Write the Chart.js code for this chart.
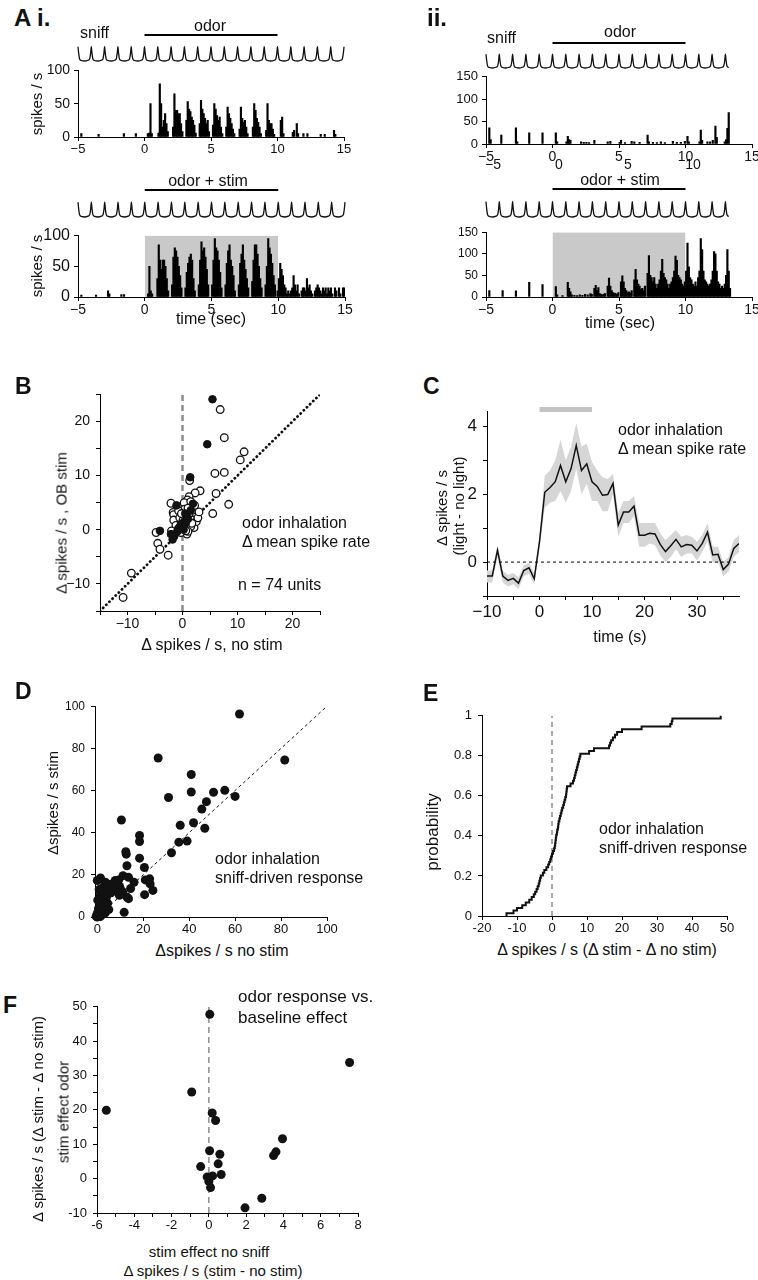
<!DOCTYPE html>
<html>
<head>
<meta charset="utf-8">
<script src="https://cdn.jsdelivr.net/npm/chart.js@4.4.0/dist/chart.umd.min.js"></script>
<style>
  body { margin: 0; background: #fff; }
  #fig { position: relative; width: 758px; height: 1280px; overflow: hidden;
         font-family: "Liberation Sans", Arial, Helvetica, sans-serif; color: #111; }
  #fig canvas { position: absolute; }
  .t { position: absolute; white-space: nowrap; line-height: 1; }
</style>
</head>
<body>
<div id="fig"></div>
<script>
// ---- data ----
const odorWindow = [0, 10];
const stimWindow = [0, 10];
const sniffPeaksI = [-5, -4, -3, -2, -1, 0, 1, 2, 3, 4, 5, 6, 7, 8, 9, 10, 11, 12, 13, 14, 15];
const sniffPeaksII = [-5, -4, -3, -2, -1, 0, 1, 2, 3, 4, 5, 6, 7, 8, 9, 10, 11, 12, 13];
// one sniff cycle around its peak: [time offset (s), amplitude]
const sniffShape = [[-0.25, 0.03], [-0.12, 0.09], [-0.05, 0.3], [0, 0.55], [0.05, 0.3], [0.12, 0.08], [0.25, 0.02], [0.5, 0]];

// PSTH bins (bin start in s, spikes/s), 0.1 s bins, empty bins left out
const psthOdorI = [[-4.8,5],[-3.5,4],[-1.6,5],[-0.7,5],
  [0.2,5],[0.3,6],[0.4,50],[0.5,5],
  [1.0,6],[1.1,80],[1.2,50],[1.3,15],[1.4,25],[1.5,35],[1.6,20],[1.7,8],
  [2.1,15],[2.2,65],[2.3,40],[2.4,40],[2.5,35],[2.6,35],[2.7,20],[2.8,8],
  [3.1,25],[3.2,53],[3.3,42],[3.4,38],[3.5,30],[3.6,25],[3.7,18],[3.8,6],
  [4.1,20],[4.2,55],[4.3,42],[4.4,35],[4.5,28],[4.6,20],[4.7,25],[4.8,8],
  [5.1,18],[5.2,50],[5.3,42],[5.4,32],[5.5,25],[5.6,30],[5.7,15],[5.8,5],
  [6.1,15],[6.2,45],[6.3,35],[6.4,28],[6.5,20],[6.6,12],[6.7,5],
  [7.1,12],[7.2,45],[7.3,28],[7.4,22],[7.5,25],[7.6,15],[7.7,5],
  [8.1,15],[8.2,50],[8.3,40],[8.4,28],[8.5,22],[8.6,15],[8.7,5],
  [9.1,10],[9.2,50],[9.3,25],[9.4,20],[9.5,20],[9.6,12],[9.7,4],
  [10.2,25],[10.3,30],[10.4,5],
  [11.1,7],[11.2,10],[11.4,20],[11.5,5],
  [11.9,5],[12.2,5],[13.2,4],[13.5,4],[14.2,10],[14.3,4]];

const psthStimI = [[-4.8,3],[-3.7,3],[-2.8,10],[-2.7,5],[-1.8,4],[-1.6,4],
  [0.2,5],[0.3,50],[0.4,10],[0.5,5],
  [0.9,30],[1.0,85],[1.1,60],[1.2,45],[1.3,60],[1.4,60],[1.5,50],[1.6,30],[1.7,10],
  [2.0,20],[2.1,65],[2.2,80],[2.3,75],[2.4,65],[2.5,50],[2.6,35],[2.7,15],
  [3.0,15],[3.1,40],[3.2,55],[3.3,65],[3.4,70],[3.5,60],[3.6,30],[3.7,10],
  [4.0,20],[4.1,60],[4.2,90],[4.3,75],[4.4,80],[4.5,65],[4.6,45],[4.7,20],
  [5.0,20],[5.1,60],[5.2,95],[5.3,80],[5.4,75],[5.5,60],[5.6,40],[5.7,15],
  [6.0,20],[6.1,55],[6.2,75],[6.3,85],[6.4,60],[6.5,50],[6.6,35],[6.7,10],
  [7.0,20],[7.1,55],[7.2,70],[7.3,85],[7.4,60],[7.5,45],[7.6,30],[7.7,15],
  [8.0,25],[8.1,60],[8.2,85],[8.3,85],[8.4,70],[8.5,50],[8.6,30],[8.7,15],
  [9.0,20],[9.1,50],[9.2,95],[9.3,80],[9.4,70],[9.5,55],[9.6,35],[9.7,20],
  [9.9,10],[10.0,30],[10.1,55],[10.2,45],[10.3,35],[10.4,20],[10.5,15],[10.6,5],[10.7,10],[10.8,5],[10.9,10],
  [11.0,15],[11.1,35],[11.2,20],[11.3,10],[11.4,20],[11.5,5],
  [11.7,10],[11.8,15],[11.9,15],[12.0,10],[12.1,30],[12.2,15],[12.3,20],[12.4,10],[12.5,5],
  [12.7,10],[12.8,15],[12.9,20],[13.0,15],[13.1,10],[13.2,5],[13.3,15],[13.4,10],[13.5,15],[13.6,5],
  [13.7,15],[13.8,10],[13.9,15],[14.0,5],[14.2,15],[14.3,10],[14.5,15],[14.6,5],[14.8,15],[14.9,15]];

const psthOdorII = [[-4.8,36],[-4.7,10],[-3.9,20],[-2.8,36],[-2.7,5],[-1.8,25],[-0.8,25],[0.2,25],[0.3,5],
  [1.0,5],[1.1,17],[1.2,10],[1.3,8],[2.1,5],[2.3,4],[2.5,4],[2.7,3],[3.1,8],
  [4.1,5],[4.3,6],[5.0,4],[5.1,8],[5.4,3],[5.9,6],[6.1,5],[6.5,4],[7.1,20],[7.2,5],[7.5,4],[7.8,3],
  [8.1,5],[8.4,3],[9.0,6],[9.3,4],[9.6,4],[9.9,6],[10.1,17],[10.2,5],
  [11.0,5],[11.1,31],[11.2,8],[11.6,5],[11.8,5],[12.0,8],[12.2,40],[12.3,15],[12.9,5],[13.0,10],[13.1,35],[13.2,70]];

const psthStimII = [[-4.8,15],[-3.8,15],[-2.8,14],[-1.8,34],[-0.8,29],
  [0.2,24],[0.3,5],[0.7,3],[1.1,34],[1.2,20],[1.3,12],[1.4,5],[1.6,4],
  [1.8,3],[2.0,5],[2.2,4],[2.4,6],[2.6,5],[2.8,8],[2.9,6],
  [3.1,20],[3.2,27],[3.3,15],[3.4,22],[3.5,8],[3.6,6],[3.7,5],[3.8,7],[3.9,8],
  [4.1,25],[4.2,44],[4.3,25],[4.4,15],[4.5,10],[4.6,9],[4.7,8],[4.8,6],[4.9,10],
  [5.1,35],[5.2,49],[5.3,35],[5.4,20],[5.5,15],[5.6,10],[5.7,12],[5.8,9],[5.9,15],
  [6.1,40],[6.2,64],[6.3,40],[6.4,30],[6.5,25],[6.6,18],[6.7,20],[6.8,15],[6.9,25],
  [7.1,55],[7.2,96],[7.3,50],[7.4,45],[7.5,35],[7.6,45],[7.7,30],[7.8,20],[7.9,30],
  [8.0,40],[8.1,60],[8.2,87],[8.3,55],[8.4,45],[8.5,40],[8.6,30],[8.7,20],[8.8,30],[8.9,35],
  [9.0,45],[9.1,60],[9.2,95],[9.3,85],[9.4,50],[9.5,45],[9.6,40],[9.7,30],[9.8,25],[9.9,35],
  [10.0,60],[10.1,125],[10.2,70],[10.3,45],[10.4,40],[10.5,30],[10.6,25],[10.7,35],[10.8,25],[10.9,45],
  [11.0,60],[11.1,135],[11.2,110],[11.3,60],[11.4,40],[11.5,35],[11.6,30],[11.7,25],[11.8,30],[11.9,40],
  [12.0,60],[12.1,105],[12.2,100],[12.3,60],[12.4,35],[12.5,30],[12.6,20],[12.7,25],[12.8,20],[12.9,30],
  [13.0,50],[13.1,110],[13.2,60],[13.3,20]];

// B: [no stim, OB stim]
const bFilled = [[5.45,24.1],[4.5,15.8],[1.4,9.7],[-1.1,4.5],[1.9,4.8],[-4.1,-0.2],[-2.1,-0.8],[-1.8,-1.8],
  [-0.5,0.5],[0.3,1.5],[-1.0,-0.4],[0.8,2.5],[0.2,0.0],[-0.3,1.0],[1.0,2.0],[0.5,3.0],[-1.5,-1.2],
  [0.0,0.6],[1.5,3.6],[-0.8,0.2],[0.6,1.2]];
const bOpen = [[6.85,22.2],[7.6,17.0],[11.2,14.4],[10.5,12.9],[5.9,10.4],[7.6,10.6],[1.3,9.1],[3.2,7.2],
  [2.3,6.8],[6.1,6.7],[8.4,4.7],[5.5,3.0],[-2.1,4.9],[-1.7,3.2],[-1.6,2.8],[1.2,6.1],[0.9,5.5],[0.0,4.5],
  [2.0,3.9],[1.8,2.7],[2.1,0.4],[0.8,-0.8],[-4.8,-0.5],[-4.5,-2.5],[-4.1,-3.6],[-2.6,-4.7],[-9.3,-8.0],
  [-10.8,-12.5],[1.8,3.6],[1.2,2.4],[1.8,1.8],[-1.6,1.8],[0.8,1.0],[0.3,5.0],[-0.5,2.2],[2.5,1.5],
  [1.5,0.6],[0.4,3.8],[-0.3,-0.5],[1.0,-0.3],[2.8,2.2],[0.5,2.0],[-1.2,0.8],[1.5,5.2],[0.1,1.8],
  [-0.7,3.5],[2.2,4.5],[1.0,4.0],[0.6,-0.2],[-2.0,-0.2],[-0.2,3.0],[3.0,3.3],[1.7,1.2]];

// C: time (s), mean and SEM band of delta spike rate
const cTime = [-10,-9,-8,-7,-6,-5,-4,-3,-2,-1,0,1,2,3,4,5,6,7,8,9,10,11,12,13,14,15,16,17,18,19,
  20,21,22,23,24,25,26,27,28,29,30,31,32,33,34,35,36,37,38];
const cMean = [-0.41,-0.41,0.35,-0.41,-0.54,-0.48,-0.62,-0.25,-0.17,-0.49,
  0.6,2.06,2.2,2.37,2.85,2.37,2.75,3.44,2.7,2.9,
  2.37,2.23,1.97,1.99,2.32,1.09,1.48,1.48,1.65,0.79,
  0.79,0.85,0.83,0.52,0.31,0.48,0.67,0.45,0.52,0.5,
  0.33,0.55,0.88,0.21,0.23,-0.22,-0.06,0.4,0.55];
const cUpper = [-0.25,-0.25,0.5,-0.25,-0.38,-0.32,-0.45,-0.1,-0.02,-0.33,
  0.8,2.55,2.7,3.0,3.6,3.0,3.4,4.1,3.4,3.5,
  2.95,2.7,2.5,2.45,2.6,1.45,1.8,1.8,1.95,1.15,
  1.15,1.15,1.15,0.85,0.65,0.8,0.95,0.75,0.8,0.75,
  0.6,0.8,1.15,0.45,0.45,0.0,0.15,0.65,0.8];
const cLower = [-0.6,-0.6,0.15,-0.6,-0.72,-0.65,-0.8,-0.42,-0.35,-0.66,
  0.4,1.6,1.75,1.8,2.1,1.75,2.1,2.75,2.0,2.3,
  1.8,1.8,1.5,1.5,2.0,0.75,1.15,1.15,1.35,0.45,
  0.45,0.55,0.5,0.2,0.0,0.15,0.38,0.15,0.25,0.25,
  0.05,0.3,0.6,-0.02,0.0,-0.42,-0.28,0.15,0.3];

// D: [no stim, stim]
const dUnits = [[61.9,96.3],[81.6,74.5],[26.5,75.4],[40.9,67.6],[40.9,59.3],[31.0,56.7],[50.6,59.2],
  [55.5,60.1],[60.0,57.2],[47.5,54.7],[45.5,51.2],[41.9,44.7],[36.1,43.5],[46.8,42.1],[35.5,35.5],
  [39.1,36.0],[32.3,30.5],[10.5,46.0],[18.4,38.7],[18.4,35.8],[12.4,31.0],[12.6,29.8],[18.4,27.9],
  [12.9,24.3],[20.5,23.5],[11.2,19.6],[13.6,18.8],[0.0,17.3],[1.4,18.5],[3.5,16.5],[7.8,17.3],
  [9.3,17.6],[20.9,17.6],[22.8,18.1],[23.0,15.7],[24.2,12.6],[20.6,10.6],[12.9,9.5],[2.0,12.6],
  [3.9,11.0],[9.7,14.5],[9.0,12.6],[8.6,15.0],[10.0,13.4],[9.6,10.3],[13.6,8.7],[1.3,10.3],[1.3,5.6],
  [0.0,1.7],[1.3,0.2],[2.0,1.0],[11.7,2.2],[2.7,7.9],[0.5,4.0],[0.8,2.5],[2.5,3.5],[0.3,0.5],
  [3.0,5.0],[1.8,8.0],[4.5,6.5],[5.5,12.0],[6.5,13.5],[0.0,0.0],[1.0,0.8],[-0.5,0.3],[3.5,2.0],
  [4.0,9.5],[7.0,16.0],[16.0,16.5],[14.5,13.5],[2.5,14.0],[0.8,13.0],[6.0,11.5],[11.0,12.0],
  [4.8,15.5],[2.0,3.0],[0.2,8.0],[5.0,3.5]];

// E: sorted (delta stim - delta no stim) per unit, n = 74
const eDiff = [-13,-11,-10,-8.5,-7.5,-6.5,-5.8,-5.2,-4.8,-4.4,-4.1,-3.8,-3.6,-3.4,-3.2,-2.6,-2.2,-1.6,
  -1.1,-0.8,-0.5,-0.3,0.0,0.3,0.6,0.8,0.9,1.0,1.1,1.2,1.4,1.5,1.7,1.8,1.9,2.1,2.3,2.5,2.7,2.9,
  3.2,3.4,3.6,3.8,4.0,4.1,4.2,4.3,5.3,6.0,6.3,6.5,6.7,6.9,7.1,7.3,7.5,7.7,7.9,8.1,10.6,12.0,
  16.3,16.6,16.9,17.4,18.0,18.6,20.0,25.6,33.8,34.2,34.4,48.2];

// F: [stim effect no sniff, stim effect odor]
const fUnits = [[0.05,47.8],[7.55,33.8],[-0.92,25.2],[-5.5,19.9],[0.18,19.1],[0.36,16.9],[3.95,11.6],
  [3.6,7.8],[3.47,6.7],[0.04,8.1],[0.59,7.1],[-0.44,3.5],[0.5,4.3],[0.66,1.2],[0.2,0.8],[-0.09,0.5],
  [0.0,-0.8],[0.09,-2.6],[2.84,-5.7],[1.94,-8.5]];

// ---- helpers ----
const FONT = '"Liberation Sans", Arial, Helvetica, sans-serif';
const fig = document.getElementById('fig');
const minus = v => String(Math.round(v * 100) / 100).replace('-', '\u2212');
const plain = v => String(Math.round(v * 100) / 100);
const xy = arr => arr.map(([x, y]) => ({x, y}));
const bars = arr => arr.map(([t, v]) => ({x: t + 0.05, y: v}));
const zip = (xs, ys) => xs.map((x, i) => ({x, y: ys[i]}));

function text(str, x, y, size, opt = {}) {
  const d = document.createElement('div');
  d.className = 't';
  d.textContent = str;
  d.style.fontSize = size + 'px';
  if (opt.bold) d.style.fontWeight = 'bold';
  d.style.left = x + 'px';
  d.style.top = y + 'px';
  let tf = opt.left ? 'translate(0,-50%)' : 'translate(-50%,-50%)';
  if (opt.rot) tf += ' rotate(-90deg)';
  d.style.transform = tf;
  fig.appendChild(d);
}

function axis(min, max, step, size, every, fmt, pad) {
  return {
    type: 'linear', min, max, offset: false,
    ticks: {
      stepSize: step, includeBounds: false, autoSkip: false, maxRotation: 0, minRotation: 0,
      padding: pad, color: '#111', font: {family: FONT, size},
      callback: v => (Math.abs(v / every - Math.round(v / every)) < 1e-6 ? fmt(v) : '')
    },
    grid: {display: true, drawOnChartArea: false, drawTicks: true, tickLength: 4,
      color: '#000', tickColor: '#000', lineWidth: 1, offset: false},
    border: {display: true, color: '#000', width: 1}
  };
}

// area = [left, right, top, bottom] of the plot area in page px; m = [left, right, top, bottom] margins
function place(area, m, cfg) {
  const [x0, x1, y0, y1] = area, [ml, mr, mt, mb] = m;
  const c = document.createElement('canvas');
  const w = x1 - x0 + ml + mr, h = y1 - y0 + mt + mb;
  c.width = w; c.height = h;
  c.style.left = (x0 - ml) + 'px';
  c.style.top = (y0 - mt) + 'px';
  c.style.width = w + 'px';
  c.style.height = h + 'px';
  fig.appendChild(c);
  const o = cfg.options;
  o.responsive = false;
  o.animation = false;
  o.devicePixelRatio = 1;
  o.plugins = {legend: {display: false}, tooltip: {enabled: false}};
  const sx = o.scales.x, sy = o.scales.y;
  o.layout = {padding: {left: sy.display === false ? ml : 0, right: mr, top: mt, bottom: sx.display === false ? mb : 0}};
  if (sx.display !== false) sx.afterFit = s => { s.height = mb; };
  if (sy.display !== false) sy.afterFit = s => { s.width = ml; };
  return new Chart(c, cfg);
}

function sniffTrace(peaks, t0, t1) {
  const pts = [];
  peaks.forEach(p => sniffShape.forEach(([dt, v]) => {
    const t = p + dt;
    if (t >= t0 && t <= t1) pts.push({x: t, y: v});
  }));
  return pts;
}

function sniffChart(area, peaks, t1) {
  place(area, [4, 4, 4, 4], {
    type: 'line',
    data: {datasets: [
      {data: sniffTrace(peaks, -5, t1), borderColor: '#111', borderWidth: 1.3, pointRadius: 0,
        cubicInterpolationMode: 'monotone', clip: false},
      {data: odorWindow.map(t => ({x: t, y: 1})), borderColor: '#000', borderWidth: 2, pointRadius: 0, clip: false}
    ]},
    options: {scales: {x: {type: 'linear', min: -5, max: 15, display: false}, y: {min: 0, max: 1, display: false}}}
  });
}

function psth(area, bins, ymax, ystep, yfs, xfs, shade) {
  const sets = [{data: bars(bins), backgroundColor: '#000', barThickness: 1.5, order: 1}];
  if (shade) {
    sets.push({type: 'line', data: stimWindow.map(t => ({x: t, y: ymax})), fill: 'origin',
      backgroundColor: '#c9c9c9', borderWidth: 0, pointRadius: 0, order: 2});
  }
  place(area, [40, 14, 10, 24], {
    type: 'bar',
    data: {datasets: sets},
    options: {scales: {x: axis(-5, 15, 5, xfs, 5, minus, 1), y: axis(0, ymax, ystep, yfs, ystep, plain, 4)}}
  });
}

// ---- panel A ----
sniffChart([78, 344, 35, 61], sniffPeaksI, 15);
psth([78, 344, 68, 137], psthOdorI, 100, 50, 14, 13, false);
sniffChart([78, 345, 190, 217], sniffPeaksI, 15);
psth([78, 345, 232, 297], psthStimI, 100, 50, 16, 14, true);
sniffChart([486, 752, 43, 68], sniffPeaksII, 13.3);
psth([486, 752, 75, 144], psthOdorII, 150, 50, 13, 14, false);
sniffChart([486, 752, 189, 217], sniffPeaksII, 13.3);
psth([486, 752, 231, 297], psthStimII, 150, 50, 12, 14, true);

text('A i.', 14, 18, 24, {bold: true, left: true});
text('sniff', 80, 33, 16, {left: true});
text('odor', 210, 26, 16);
text('spikes / s', 36, 104, 15, {rot: true});
text('odor + stim', 208, 181, 16);
text('spikes / s', 36, 266, 15, {rot: true});
text('time (sec)', 211, 319, 16);
text('ii.', 427, 18, 24, {bold: true, left: true});
text('sniff', 487, 38, 16, {left: true});
text('odor', 620, 32, 16);
text('\u22125', 493, 164, 14);
text('0', 559, 164, 14);
text('5', 628, 164, 14);
text('10', 693, 164, 14);
text('odor + stim', 620, 180, 16);
text('time (sec)', 620, 323, 16);

// ---- panel B ----
place([100, 320, 390, 611], [40, 14, 10, 28], {
  type: 'scatter',
  data: {datasets: [
    {data: [{x: -15, y: -15}, {x: 25, y: 25}], showLine: true, borderColor: '#111', borderWidth: 2.8,
      borderDash: [0.1, 4.3], borderCapStyle: 'round', pointRadius: 0, order: 3},
    {data: [{x: 0, y: -15}, {x: 0, y: 25}], showLine: true, borderColor: '#8c8c8c', borderWidth: 2.5,
      borderDash: [6, 4], pointRadius: 0, order: 3},
    {data: xy(bOpen), pointRadius: 3.8, pointBackgroundColor: '#fff', pointBorderColor: '#111',
      pointBorderWidth: 1.3, order: 2, clip: false},
    {data: xy(bFilled), pointRadius: 3.8, pointBackgroundColor: '#111', pointBorderColor: '#111',
      pointBorderWidth: 1, order: 1, clip: false}
  ]},
  options: {scales: {x: axis(-15, 25, 5, 14, 10, minus, 1), y: axis(-15, 25, 5, 14, 10, minus, 6)}}
});
text('B', 15, 386, 23, {bold: true, left: true});
text('odor inhalation', 242, 523, 16, {left: true});
text('\u0394 mean spike rate', 242, 542, 16, {left: true});
text('n = 74 units', 238, 585, 16, {left: true});
text('\u0394 spikes / s, no stim', 212, 645, 16);
text('\u0394 spikes / s , OB stim', 61, 523, 15, {rot: true});

// ---- panel C ----
place([487, 739, 407, 596], [40, 14, 12, 30], {
  type: 'line',
  data: {datasets: [
    {data: zip(cTime, cUpper), borderWidth: 0, pointRadius: 0, fill: '+1', backgroundColor: '#d6d6d6', order: 3},
    {data: zip(cTime, cLower), borderWidth: 0, pointRadius: 0, fill: false, order: 3},
    {data: [{x: -10, y: 0}, {x: 38, y: 0}], borderColor: '#000', borderWidth: 1, borderDash: [3, 3],
      pointRadius: 0, order: 2},
    {data: zip(cTime, cMean), borderColor: '#111', borderWidth: 1.5, pointRadius: 0, order: 1},
    {data: stimWindow.map(t => ({x: t, y: 4.5})), borderColor: '#c4c4c4', borderWidth: 5,
      pointRadius: 0, clip: false, order: 1}
  ]},
  options: {scales: {x: axis(-10, 38, 5, 17, 10, minus, 2), y: axis(-1, 4.45, 1, 17, 2, minus, 6)}}
});
text('C', 423, 386, 23, {bold: true, left: true});
text('odor inhalation', 618, 430, 16, {left: true});
text('\u0394 mean spike rate', 618, 449, 16, {left: true});
text('time (s)', 620, 637, 16);
text('\u0394 spikes / s', 441, 508, 15, {rot: true});
text('(light - no light)', 458, 506, 15, {rot: true});

// ---- panel D ----
place([95, 327, 703, 917], [40, 14, 10, 24], {
  type: 'scatter',
  data: {datasets: [
    {data: [{x: 0, y: 0}, {x: 100, y: 100}], showLine: true, borderColor: '#111', borderWidth: 1,
      borderDash: [3, 3], pointRadius: 0, order: 2},
    {data: xy(dUnits), pointRadius: 4.5, pointBackgroundColor: '#111', pointBorderWidth: 0,
      order: 1, clip: false}
  ]},
  options: {scales: {x: axis(-1, 100, 20, 13, 20, plain, 1), y: axis(0, 100, 20, 12, 20, plain, 6)}}
});
text('D', 15, 691, 23, {bold: true, left: true});
text('odor inhalation', 215, 859, 16, {left: true});
text('sniff-driven response', 215, 878, 16, {left: true});
text('\u0394spikes / s stim', 52, 803, 15, {rot: true});
text('\u0394spikes / s no stim', 222, 951, 16);

// ---- panel E ----
const cdf = [{x: eDiff[0], y: 0}].concat(eDiff.map((v, i) => ({x: v, y: (i + 1) / eDiff.length})));
place([482, 727, 712, 916], [40, 14, 10, 24], {
  type: 'line',
  data: {datasets: [
    {data: [{x: 0, y: 0}, {x: 0, y: 1}], borderColor: '#8c8c8c', borderWidth: 1.5, borderDash: [5, 4],
      pointRadius: 0, order: 2},
    {data: cdf, stepped: true, borderColor: '#111', borderWidth: 2, pointRadius: 0, order: 1, clip: false}
  ]},
  options: {scales: {
    x: axis(-20, 50, 10, 13, 10, plain, 1),
    y: axis(0, 1, 0.2, 13, 0.2, v => (v === 0 || v === 1 ? String(v) : v.toFixed(1)), 6)
  }}
});
text('E', 423, 693, 23, {bold: true, left: true});
text('odor inhalation', 599, 829, 16, {left: true});
text('sniff-driven response', 599, 848, 16, {left: true});
text('probability', 432, 832, 17, {rot: true});
text('\u0394 spikes / s (\u0394 stim - \u0394 no stim)', 607, 950, 16);

// ---- panel F ----
place([97, 358, 1003, 1213], [40, 14, 10, 24], {
  type: 'scatter',
  data: {datasets: [
    {data: [{x: 0, y: -10}, {x: 0, y: 50}], showLine: true, borderColor: '#8c8c8c', borderWidth: 1.5,
      borderDash: [6, 4], pointRadius: 0, order: 2},
    {data: xy(fUnits), pointRadius: 4.5, pointBackgroundColor: '#111', pointBorderWidth: 0,
      order: 1, clip: false}
  ]},
  options: {scales: {x: axis(-6, 8, 1, 13, 2, plain, 1), y: axis(-10, 50, 5, 13, 10, plain, 6)}}
});
text('F', 3, 1005, 23, {bold: true, left: true});
text('odor response vs.', 238, 996, 17, {left: true});
text('baseline effect', 238, 1017, 17, {left: true});
text('\u0394 spikes / s (\u0394 stim - \u0394 no stim)', 37, 1119, 15, {rot: true});
text('stim effect odor', 63, 1112, 15, {rot: true});
text('stim effect no sniff', 209, 1251, 15);
text('\u0394 spikes / s (stim - no stim)', 213, 1270, 15);
</script>
</body>
</html>
